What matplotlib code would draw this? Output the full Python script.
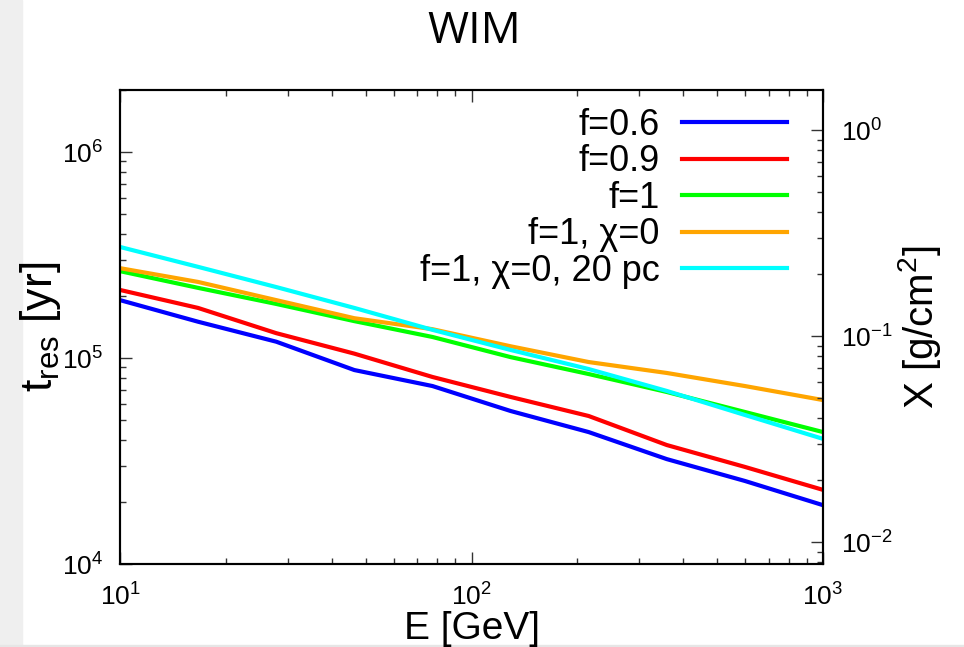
import matplotlib
matplotlib.use("Agg")
import matplotlib.pyplot as plt
from matplotlib.patches import Rectangle
from matplotlib.ticker import LogLocator, NullFormatter

plt.rcParams['font.family'] = ['Liberation Sans', 'DejaVu Sans']
plt.rcParams['mathtext.fontset'] = 'custom'
plt.rcParams['mathtext.rm'] = 'Liberation Sans'
plt.rcParams['mathtext.it'] = 'Liberation Sans:italic'
plt.rcParams['axes.unicode_minus'] = False

# energy grid [GeV]
E = [10, 16.68, 27.83, 46.42, 77.43, 129.2, 215.4, 359.4, 599.5, 1000]

# residence time [yr]
t_f06 = [1.91e5, 1.50e5, 1.20e5, 8.74e4, 7.31e4, 5.53e4, 4.37e4, 3.23e4, 2.53e4, 1.93e4]
t_f09 = [2.14e5, 1.75e5, 1.32e5, 1.05e5, 8.09e4, 6.47e4, 5.23e4, 3.78e4, 2.96e4, 2.29e4]
t_f1 = [2.64e5, 2.19e5, 1.83e5, 1.51e5, 1.265e5, 1.01e5, 8.36e4, 6.84e4, 5.47e4, 4.37e4]
t_f1_chi0 = [2.73e5, 2.34e5, 1.91e5, 1.56e5, 1.38e5, 1.14e5, 9.56e4, 8.46e4, 7.31e4, 6.25e4]
t_f1_chi0_20pc = [3.46e5, 2.77e5, 2.21e5, 1.75e5, 1.37e5, 1.094e5, 8.84e4, 6.92e4, 5.29e4, 4.05e4]

labels = ['f=0.6', 'f=0.9', 'f=1', 'f=1, χ=0', 'f=1, χ=0, 20 pc']
colors = ['#0000ff', '#ff0000', '#00ff00', '#ffa500', '#00ffff']
series = [t_f06, t_f09, t_f1, t_f1_chi0, t_f1_chi0_20pc]

W, H = 964, 647
fig = plt.figure(figsize=(W / 100, H / 100), dpi=100)

# grey screenshot border
fig.patches.append(Rectangle((0, 0), 22 / W, 1, transform=fig.transFigure,
                             color='#efefef', zorder=-10))
fig.patches.append(Rectangle((0, 0), 1, 2 / H, transform=fig.transFigure,
                             color='#e6e6e6', zorder=-10))

ax = fig.add_axes([120 / W, 1 - 564 / H, (823 - 120) / W, (564 - 90) / H])

for y, c, lab in zip(series, colors, labels):
    ax.plot(E, y, color=c, lw=3.0, label=lab, solid_joinstyle='round')

ax.set_xscale('log')
ax.set_yscale('log')
ax.set_xlim(10, 1000)
ax.set_ylim(1e4, 2e6)

tick_col = '#333333'
ax.tick_params(which='major', direction='in', length=8.5, width=1.0,
               color=tick_col, labelsize=19, top=True, right=False)
ax.tick_params(which='minor', direction='in', length=4.5, width=1.0,
               color=tick_col, top=True, right=False)
ax.tick_params(axis='x', pad=14)
ax.tick_params(axis='y', pad=12)
ax.xaxis.set_major_locator(LogLocator(base=10, numticks=10))
ax.xaxis.set_minor_locator(LogLocator(base=10, subs=range(2, 10), numticks=10))
ax.xaxis.set_minor_formatter(NullFormatter())
ax.yaxis.set_minor_formatter(NullFormatter())
for s in ax.spines.values():
    s.set_linewidth(1.5)

ax.set_ylabel('t$_{\\mathrm{res}}$ [yr]', fontsize=32, labelpad=-1)
ax.set_xlabel('E [GeV]', fontsize=28, labelpad=0)

# right axis: grammage
ax2 = ax.twinx()
ax2.set_yscale('log')
ax2.set_ylim(7.85e-3, 1.57)
ax2.tick_params(which='major', direction='in', length=8.5, width=1.0,
                color=tick_col, labelsize=19, pad=13)
ax2.tick_params(which='minor', direction='in', length=4.5, width=1.0,
                color=tick_col)
ax2.yaxis.set_minor_formatter(NullFormatter())
ax2.set_ylabel('X [g/cm$^{2}$]', fontsize=29, labelpad=2)
for s in ax2.spines.values():
    s.set_linewidth(1.5)

leg = ax.legend(loc='upper right', bbox_to_anchor=(0.949, 0.962),
                frameon=False, markerfirst=False, fontsize=26,
                handlelength=2.9, handletextpad=0.64, labelspacing=0.04,
                borderaxespad=0, borderpad=0)

fig.text(0.492, 1 - 32 / H, 'WIM', ha='center', va='center',
         fontsize=32, family='Open Sans')

fig.savefig('out.png', dpi=100)
